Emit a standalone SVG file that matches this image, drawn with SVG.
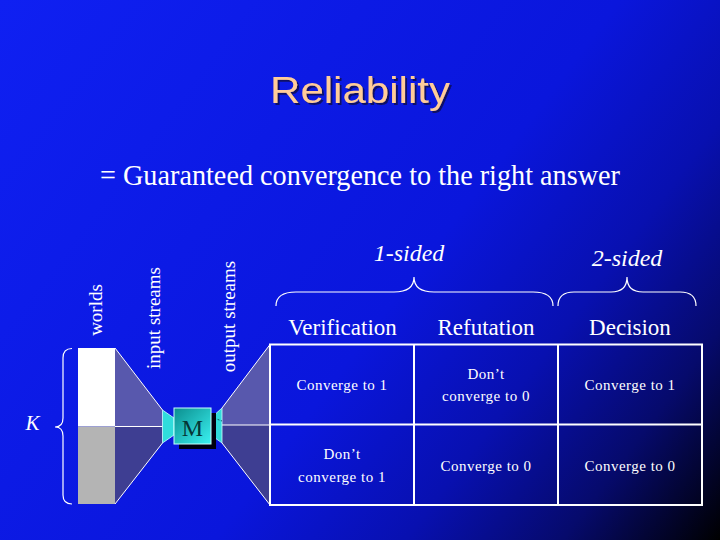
<svg xmlns="http://www.w3.org/2000/svg" width="720" height="540" viewBox="0 0 720 540">
  <defs>
    <linearGradient id="bg" gradientUnits="userSpaceOnUse" x1="0" y1="0" x2="720" y2="540">
      <stop offset="0" stop-color="#0f20f2"/>
      <stop offset="0.55" stop-color="#0a16dc"/>
      <stop offset="0.72" stop-color="#0810b0"/>
      <stop offset="0.86" stop-color="#060a6c"/>
      <stop offset="1" stop-color="#000000"/>
    </linearGradient>
    <linearGradient id="mfill" x1="0" y1="0" x2="1" y2="1">
      <stop offset="0" stop-color="#0b8e8e"/>
      <stop offset="1" stop-color="#3af2f2"/>
    </linearGradient>
    <filter id="tshadow" x="-10%" y="-30%" width="130%" height="170%">
      <feDropShadow dx="2" dy="2" stdDeviation="0.6" flood-color="#10105a" flood-opacity="0.9"/>
    </filter>
    <style>
      .title { font-family: "Liberation Sans", Arial, sans-serif; font-size: 36px; text-anchor: middle; fill: #ffcc99; }
      .sub { font-family: "Liberation Serif", "Times New Roman", serif; font-size: 29px; fill: #ffffff; }
      .head { font-family: "Liberation Serif", "Times New Roman", serif; font-size: 23px; fill: #ffffff; text-anchor: middle; }
      .cell { font-family: "Liberation Serif", "Times New Roman", serif; font-size: 15px; fill: #ffffff; text-anchor: middle; letter-spacing: 0.5px; }
      .side { font-family: "Liberation Serif", "Times New Roman", serif; font-size: 24px; font-style: italic; fill: #ffffff; text-anchor: middle; }
      .vert { font-family: "Liberation Serif", "Times New Roman", serif; font-size: 19px; fill: #ffffff; text-anchor: middle; }
      .edge { stroke: #ffffff; stroke-width: 1; fill: none; }
      .light { fill: #5858ad; }
      .dark { fill: #3e3e92; }
      .cyan { fill: #30dcdc; stroke: #d0ffff; stroke-width: 0.8; }
      .grid { stroke: #ffffff; stroke-width: 2; fill: none; }
      .brace { stroke: #ffffff; stroke-width: 1.2; fill: none; }
    </style>
  </defs>

  <rect x="0" y="0" width="720" height="540" fill="url(#bg)"/>

  <g id="title">
    <text class="title" x="360" y="102.5" filter="url(#tshadow)" textLength="180" lengthAdjust="spacingAndGlyphs">Reliability</text>
  </g>

  <g id="subtitle">
    <text class="sub" x="100" y="184.5" textLength="520" lengthAdjust="spacingAndGlyphs">= Guaranteed convergence to the right answer</text>
  </g>

  <g id="worlds">
    <rect x="78" y="348" width="37" height="78.5" fill="#ffffff"/>
    <rect x="78" y="426.5" width="37" height="77.5" fill="#b4b4b4"/>
    <path class="brace" d="M72,348.5 Q63,348.5 63,358 L63,418 Q63,427 55,427 Q63,427 63,436 L63,495 Q63,504 72,504"/>
    <text x="32.5" y="429.5" font-family="Liberation Serif, Times New Roman, serif" font-size="21" font-style="italic" fill="#ffffff" text-anchor="middle">K</text>
  </g>

  <g id="labels">
    <text class="vert" transform="translate(101.5,310) rotate(-90)">worlds</text>
    <text class="vert" transform="translate(160,318) rotate(-90)">input streams</text>
    <text class="vert" transform="translate(235,316.5) rotate(-90)">output streams</text>
  </g>

  <g id="connectors">
    <polygon class="light" points="115,348 162.5,410 162.5,426.5 115,426.5"/>
    <polygon class="dark" points="115,426.5 162.5,426.5 162.5,443 115,504"/>
    <line class="edge" x1="115" y1="348" x2="162.5" y2="410"/>
    <line class="edge" x1="115" y1="504" x2="162.5" y2="443"/>
    <line class="edge" x1="115" y1="426.5" x2="162.5" y2="426.5"/>
    <polygon class="cyan" points="162.5,410 174,418 174,435 162.5,443"/>
    <polygon class="light" points="222,408 270,344.5 270,425 222,425"/>
    <polygon class="dark" points="222,425 270,425 270,505 222,443"/>
    <line class="edge" x1="222" y1="408" x2="270" y2="344.5"/>
    <line class="edge" x1="222" y1="443" x2="270" y2="505"/>
    <line class="edge" x1="222" y1="425" x2="270" y2="425"/>
    <polygon class="cyan" points="211,418 222,408 222,443 211,435"/>
    <line x1="211" y1="417" x2="222" y2="421" stroke="#0a5a6a" stroke-width="1" stroke-dasharray="2,1.5"/>
  </g>

  <g id="machine">
    <rect x="179" y="413" width="37" height="36" fill="#000010"/>
    <rect x="174" y="408" width="37" height="36" fill="url(#mfill)" stroke="#c8ffff" stroke-width="1"/>
    <text x="192.5" y="436" font-family="Liberation Serif, Times New Roman, serif" font-size="24" fill="#053535" text-anchor="middle">M</text>
  </g>

  <g id="braces">
    <path class="brace" d="M276,306 Q276,292 296,292 L394,292 Q414,292 414,277 Q414,292 434,292 L533,292 Q553,292 553,306"/>
    <path class="brace" d="M558,306 Q558,292 574,292 L611,292 Q627,292 627,277 Q627,292 643,292 L680,292 Q696,292 696,306"/>
    <text class="side" x="409" y="260.5">1-sided</text>
    <text class="side" x="627" y="266">2-sided</text>
  </g>

  <g id="headers">
    <text class="head" x="342.5" y="334.5">Verification</text>
    <text class="head" x="486" y="334.5">Refutation</text>
    <text class="head" x="630" y="334.5">Decision</text>
  </g>

  <g id="table">
    <rect class="grid" x="270" y="344.5" width="432" height="160.5"/>
    <line class="grid" x1="414" y1="344.5" x2="414" y2="505"/>
    <line class="grid" x1="558" y1="344.5" x2="558" y2="505"/>
    <line class="grid" x1="270" y1="424.5" x2="702" y2="424.5"/>
    <text class="cell" x="342" y="390">Converge to 1</text>
    <text class="cell" x="486" y="378.5">Don’t</text>
    <text class="cell" x="486" y="401">converge to 0</text>
    <text class="cell" x="630" y="390">Converge to 1</text>
    <text class="cell" x="342" y="459">Don’t</text>
    <text class="cell" x="342" y="481.5">converge to 1</text>
    <text class="cell" x="486" y="470.5">Converge to 0</text>
    <text class="cell" x="630" y="470.5">Converge to 0</text>
  </g>
</svg>
